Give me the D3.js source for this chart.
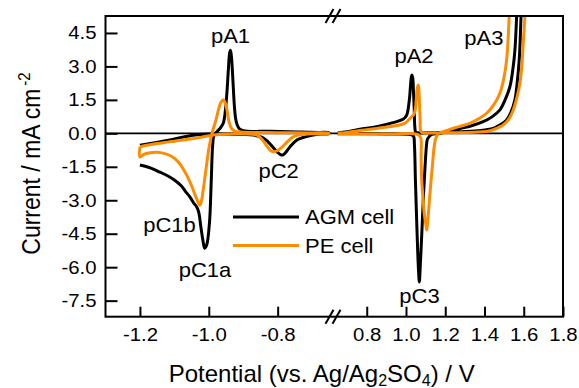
<!DOCTYPE html>
<html>
<head>
<meta charset="utf-8">
<script src="https://cdn.jsdelivr.net/npm/d3@7"></script>
<style>
  html, body { margin: 0; padding: 0; background: #fff; }
  svg text { font-family: "Liberation Sans", Arial, sans-serif; fill: #000; }
</style>
</head>
<body>
<svg width="579" height="388"></svg>
<script>
// tick values
const yTicks = [-7.5, -6.0, -4.5, -3.0, -1.5, 0.0, 1.5, 3.0, 4.5];
const xTicksLow = [-1.2, -1.0, -0.8];
const xTicksHigh = [0.8, 1.0, 1.2, 1.4, 1.6, 1.8];

const seriesNames = ["AGM cell", "PE cell"];
const seriesColors = ["#000000", "#ff8c00"];

// CV loops, [potential V, current mA cm-2]
// AGM cell, negative window
const agmLow = [
  [-1.2, -1.42], [-1.17, -1.55], [-1.142, -1.74], [-1.12, -1.9], [-1.099, -2.1], [-1.08, -2.35],
  [-1.068, -2.6], [-1.055, -2.85], [-1.045, -3.1], [-1.035, -3.3], [-1.029, -3.55], [-1.023, -4.2],
  [-1.017, -4.8], [-1.012, -5.15], [-1.006, -5.0], [-0.998, -4.0], [-0.993, -2.2], [-0.989, -0.6],
  [-0.985, -0.1], [-0.975, 0.1], [-0.967, 0.23], [-0.958, 0.45], [-0.952, 1.0], [-0.947, 1.9],
  [-0.943, 2.9], [-0.9395, 3.6], [-0.937, 3.72], [-0.934, 3.4], [-0.930, 2.4], [-0.926, 1.3],
  [-0.922, 0.65], [-0.918, 0.4], [-0.912, 0.22], [-0.9, 0.12], [-0.82, 0.09], [-0.74, 0.06],
  [-0.68, 0.04], [-0.652, 0.03],
  [-0.652, -0.02], [-0.68, -0.04], [-0.697, -0.08], [-0.72, -0.16], [-0.744, -0.3], [-0.764, -0.6],
  [-0.778, -0.88], [-0.785, -0.97], [-0.792, -0.95], [-0.80, -0.85], [-0.815, -0.6], [-0.83, -0.35],
  [-0.845, -0.18], [-0.87, -0.08], [-0.9, -0.05], [-0.95, -0.03], [-0.99, -0.03], [-1.026, -0.05],
  [-1.07, -0.15], [-1.113, -0.3], [-1.156, -0.42], [-1.2, -0.53]
];
// PE cell, negative window
const peLow = [
  [-1.2, -0.6], [-1.2, -1.06], [-1.19, -0.95], [-1.17, -0.87], [-1.15, -0.85], [-1.13, -0.9],
  [-1.105, -1.06], [-1.085, -1.35], [-1.065, -1.85], [-1.05, -2.35], [-1.04, -2.75], [-1.032, -3.05],
  [-1.026, -3.22], [-1.021, -3.0], [-1.015, -2.4], [-1.008, -1.6], [-1.0, -0.7], [-0.995, -0.3],
  [-0.988, 0.15], [-0.98, 0.55], [-0.972, 1.05], [-0.965, 1.38], [-0.957, 1.5], [-0.951, 1.3],
  [-0.946, 0.95], [-0.941, 0.5], [-0.934, 0.22], [-0.925, 0.1], [-0.9, 0.05], [-0.8, 0.03],
  [-0.7, 0.02], [-0.652, 0.01],
  [-0.652, -0.03], [-0.70, -0.02], [-0.715, -0.03], [-0.74, -0.08], [-0.756, -0.17], [-0.772, -0.38],
  [-0.787, -0.62], [-0.8, -0.77], [-0.812, -0.82], [-0.82, -0.78], [-0.831, -0.58], [-0.845, -0.28],
  [-0.86, -0.08], [-0.9, -0.03], [-0.95, -0.03], [-0.99, -0.08], [-1.02, -0.17], [-1.06, -0.27],
  [-1.1, -0.35], [-1.15, -0.46], [-1.2, -0.6]
];
// AGM cell, positive window
const agmHigh = [
  [0.652, 0.02], [0.70, 0.07], [0.765, 0.18], [0.85, 0.3], [0.934, 0.48], [0.985, 0.63],
  [1.0035, 0.82], [1.017, 1.5], [1.024, 2.24], [1.029, 2.61], [1.034, 2.5], [1.038, 1.9],
  [1.042, 1.1], [1.045, 0.3], [1.05, 0.05], [1.07, 0.02], [1.15, 0.03], [1.25, 0.05],
  [1.35, 0.1], [1.41, 0.16], [1.444, 0.22], [1.48, 0.38], [1.513, 0.6], [1.535, 0.95],
  [1.555, 1.5], [1.567, 2.3], [1.577, 3.29], [1.582, 4.2], [1.586, 5.24], [1.59, 6.0],
  [1.568, 6.0], [1.5638, 5.24], [1.5551, 3.74], [1.545, 2.9], [1.5296, 2.09], [1.505, 1.5],
  [1.4786, 1.05], [1.44, 0.75], [1.3934, 0.52], [1.33, 0.33], [1.2745, 0.22], [1.22, 0.1],
  [1.173, 0.0], [1.13, -0.05], [1.11, -0.25], [1.1055, -0.45], [1.097, -1.5], [1.088, -3.0],
  [1.08, -4.6], [1.073, -5.9], [1.068, -6.66], [1.063, -6.0], [1.056, -4.33], [1.048, -2.09],
  [1.043, -0.52], [1.038, -0.12], [1.02, -0.05], [0.9, -0.03], [0.75, -0.02], [0.652, -0.02]
];
// PE cell, positive window
const peHigh = [
  [0.652, 0.0], [0.70, 0.04], [0.764, 0.13], [0.85, 0.22], [0.9925, 0.45], [1.026, 0.72],
  [1.04, 0.85], [1.048, 1.1], [1.053, 1.6], [1.058, 2.05], [1.0626, 2.17], [1.066, 1.9],
  [1.069, 1.3], [1.072, 0.6], [1.075, 0.1], [1.085, 0.02], [1.15, 0.02], [1.25, 0.03],
  [1.35, 0.05], [1.41, 0.08], [1.45, 0.18], [1.4954, 0.37], [1.525, 0.65], [1.5464, 1.05],
  [1.565, 1.6], [1.5806, 2.25], [1.59, 3.0], [1.5974, 4.04], [1.606, 5.24], [1.61, 6.0],
  [1.53, 6.0], [1.526, 5.24], [1.5128, 3.29], [1.497, 2.4], [1.4786, 1.8], [1.445, 1.25],
  [1.4107, 0.9], [1.37, 0.65], [1.3255, 0.45], [1.27, 0.3], [1.2235, 0.18], [1.19, 0.08],
  [1.168, 0.0], [1.155, -0.15], [1.146, -0.45], [1.134, -1.5], [1.124, -2.5], [1.115, -3.5],
  [1.109, -4.1], [1.1054, -4.33], [1.1, -4.0], [1.094, -3.66], [1.085, -2.7], [1.08, -2.09],
  [1.077, -1.0], [1.075, -0.2], [1.06, -0.05], [0.9, -0.03], [0.75, -0.02], [0.652, -0.02]
];

// peak names with the window they sit in and their place in data units
const peakNames = ["pA1", "pC2", "pC1b", "pC1a", "pA2", "pA3", "pC3"];
const peakWindow = ["low", "low", "low", "low", "high", "high", "high"];
const peakV = [-0.937, -0.797, -1.114, -1.011, 1.041, 1.397, 1.069];
const peakI = [4.05, -2.0, -4.42, -6.44, 3.15, 3.96, -7.6];

const svg = d3.select("svg");
const plotLeft = 105.5, plotRight = 563, plotTop = 16, plotBottom = 316.7;
const breakX = 333;
const textStretch = 1.1;

const xLow = d3.scaleLinear().domain([-1.3, -0.65]).range([plotLeft, 329.3]);
const xHigh = d3.scaleLinear().domain([0.65, 1.8]).range([337.3, plotRight]);
const y = d3.scaleLinear().domain([-8.22, 5.26]).range([plotBottom, plotTop]);

// clip each window to the plot box
const defs = svg.append("defs");
defs.append("clipPath").attr("id", "clipLow").append("rect")
    .attr("x", plotLeft).attr("y", plotTop)
    .attr("width", breakX - plotLeft).attr("height", plotBottom - plotTop);
defs.append("clipPath").attr("id", "clipHigh").append("rect")
    .attr("x", breakX).attr("y", plotTop)
    .attr("width", plotRight - breakX).attr("height", plotBottom - plotTop);

// zero line
svg.append("line")
    .attr("x1", plotLeft).attr("x2", plotRight)
    .attr("y1", y(0)).attr("y2", y(0))
    .attr("stroke", "#000").attr("stroke-width", 1.8);

const lineLow = d3.line().x(d => xLow(d[0])).y(d => y(d[1])).curve(d3.curveCatmullRom.alpha(0.5));
const lineHigh = d3.line().x(d => xHigh(d[0])).y(d => y(d[1])).curve(d3.curveCatmullRom.alpha(0.5));

const curves = [
  {data: agmLow, line: lineLow, clip: "clipLow", color: seriesColors[0]},
  {data: agmHigh, line: lineHigh, clip: "clipHigh", color: seriesColors[0]},
  {data: peLow, line: lineLow, clip: "clipLow", color: seriesColors[1]},
  {data: peHigh, line: lineHigh, clip: "clipHigh", color: seriesColors[1]}
];
for (let c of curves) {
  svg.append("path")
      .attr("clip-path", `url(#${c.clip})`)
      .attr("d", c.line(c.data))
      .attr("fill", "none")
      .attr("stroke", c.color)
      .attr("stroke-width", 3)
      .attr("stroke-linejoin", "round");
}

// frame
svg.append("rect")
    .attr("x", plotLeft).attr("y", plotTop)
    .attr("width", plotRight - plotLeft).attr("height", plotBottom - plotTop)
    .attr("fill", "none").attr("stroke", "#000").attr("stroke-width", 2);

// axis break marks on top and bottom edges
for (let yy of [plotTop, plotBottom]) {
  for (let dx of [-3.5, 3.5]) {
    svg.append("line")
        .attr("x1", breakX + dx - 4).attr("y1", yy + 7)
        .attr("x2", breakX + dx + 4).attr("y2", yy - 7)
        .attr("stroke", "#000").attr("stroke-width", 2);
  }
}

const fmt = d => d.toFixed(1);

// y axis, ticks pointing inward
const yPad = 9;
svg.append("g")
    .attr("transform", `translate(${plotLeft},0)`)
    .call(d3.axisLeft(y).tickValues(yTicks).tickSize(-12).tickPadding(yPad).tickFormat(fmt))
    .call(g => g.select(".domain").remove())
    .call(g => g.selectAll("line").attr("stroke", "#000").attr("stroke-width", 2))
    .call(g => g.selectAll("text")
        .attr("font-size", "18.5px")
        .attr("font-family", "Liberation Sans, Arial, sans-serif")
        .attr("x", -yPad / textStretch)
        .attr("transform", `scale(${textStretch},1)`));

// x axes for both windows
for (let [scale, ticks] of [[xLow, xTicksLow], [xHigh, xTicksHigh]]) {
  svg.append("g")
      .attr("transform", `translate(0,${plotBottom})`)
      .call(d3.axisBottom(scale).tickValues(ticks).tickSize(-10).tickPadding(11).tickFormat(fmt))
      .call(g => g.select(".domain").remove())
      .call(g => g.selectAll("line").attr("stroke", "#000").attr("stroke-width", 2))
      .call(g => g.selectAll("text")
          .attr("font-size", "18.5px")
          .attr("font-family", "Liberation Sans, Arial, sans-serif")
          .attr("transform", `scale(${textStretch},1)`));
}

// peak labels
peakNames.forEach((name, i) => {
  const sx = peakWindow[i] === "low" ? xLow : xHigh;
  svg.append("text")
      .attr("transform", `translate(${sx(peakV[i])},${y(peakI[i])}) scale(${textStretch},1)`)
      .attr("text-anchor", "middle")
      .attr("font-size", "20px")
      .text(name);
});

// legend
const legendX = 233, legendY = 217, legendGap = 28.5;
seriesNames.forEach((name, i) => {
  const ly = legendY + i * legendGap;
  svg.append("line")
      .attr("x1", legendX).attr("x2", legendX + 66)
      .attr("y1", ly).attr("y2", ly)
      .attr("stroke", seriesColors[i]).attr("stroke-width", 3);
  svg.append("text")
      .attr("transform", `translate(${legendX + 72},${ly + 7}) scale(${textStretch},1)`)
      .attr("font-size", "20px")
      .text(name);
});

// x title
const xt = svg.append("text")
    .attr("x", 321.7).attr("y", 382)
    .attr("text-anchor", "middle")
    .attr("font-size", "24px");
xt.append("tspan").text("Potential (vs. Ag/Ag");
xt.append("tspan").attr("font-size", "16px").attr("dy", 3.5).text("2");
xt.append("tspan").attr("dy", -3.5).text("SO");
xt.append("tspan").attr("font-size", "16px").attr("dy", 3.5).text("4");
xt.append("tspan").attr("dy", -3.5).text(") / V");

// y title
const yt = svg.append("text")
    .attr("transform", `translate(40,163.5) scale(1.12,1) rotate(-90)`)
    .attr("text-anchor", "middle")
    .attr("font-size", "23px");
yt.append("tspan").text("Current / mA cm");
yt.append("tspan").attr("font-size", "15px").attr("dx", 3).attr("dy", -9).text("-2");
</script>
</body>
</html>
